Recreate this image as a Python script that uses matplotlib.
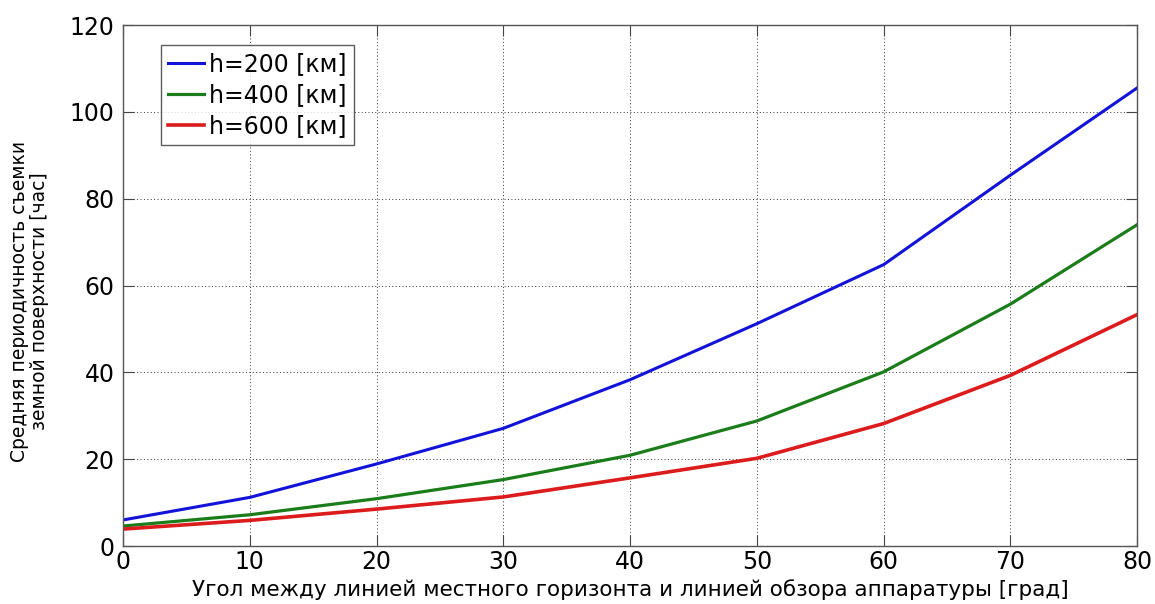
import matplotlib
matplotlib.use("Agg")
import matplotlib.pyplot as plt

# Viewing angle [deg]
angle = [0, 10, 20, 30, 40, 50, 60, 70, 80]

# Mean revisit period [hours] for orbit altitudes
period_h200 = [6.0, 11.2, 18.9, 27.1, 38.3, 51.2, 64.8, 85.4, 105.5]
period_h400 = [4.6, 7.2, 10.9, 15.3, 20.9, 28.8, 40.1, 55.7, 74.0]
period_h600 = [3.9, 5.9, 8.5, 11.3, 15.7, 20.2, 28.2, 39.3, 53.3]

series_labels = ["h=200 [км]", "h=400 [км]", "h=600 [км]"]
series_colors = ["#1212d8", "#1a7d1a", "#dc1c1c"]

x_ticks = [0, 10, 20, 30, 40, 50, 60, 70, 80]
y_ticks = [0, 20, 40, 60, 80, 100, 120]

xlabel = "Угол между линией местного горизонта и линией обзора аппаратуры [град]"
ylabel = "Средняя периодичность съемки\nземной поверхности [час]"

plt.rcParams["font.family"] = ["DejaVu Sans"]

fig = plt.figure(figsize=(11.55, 6.04), dpi=100)
ax = fig.add_axes([0.1065, 0.096, 0.878, 0.8626])

for ys, lab, col, lw in zip([period_h200, period_h400, period_h600],
                            series_labels, series_colors, [2.2, 2.3, 2.6]):
    ax.plot(angle, ys, color=col, lw=lw, label=lab, solid_joinstyle="round")

ax.set_xlim(0, 80)
ax.set_ylim(0, 120)
ax.set_xticks(x_ticks)
ax.set_yticks(y_ticks)
ax.tick_params(axis="both", which="major", direction="in", length=8, width=0.8,
               color="#444444", labelsize=17, top=True, right=True)
ax.tick_params(axis="y", pad=6)
ax.tick_params(axis="x", pad=3)
ax.grid(True, linestyle=(0, (1, 2.5)), color="#333333", linewidth=0.7)
for s in ax.spines.values():
    s.set_color("#555555")
    s.set_linewidth(1.0)

ax.set_xlabel(xlabel, fontsize=15.5)
ax.xaxis.set_label_coords(0.5, -0.064)
ax.set_ylabel(ylabel, fontsize=13.5, linespacing=1.05, multialignment="center")
ax.yaxis.set_label_coords(-0.073, 0.47)

leg = ax.legend(loc="upper left", bbox_to_anchor=(0.037, 0.962), fontsize=17,
                frameon=True, fancybox=False, handlelength=1.55, handletextpad=0.2,
                borderpad=0.3, labelspacing=0.3, borderaxespad=0.0)
leg.get_frame().set_edgecolor("#333333")
leg.get_frame().set_linewidth(1.0)

fig.savefig("out.png", dpi=100)
